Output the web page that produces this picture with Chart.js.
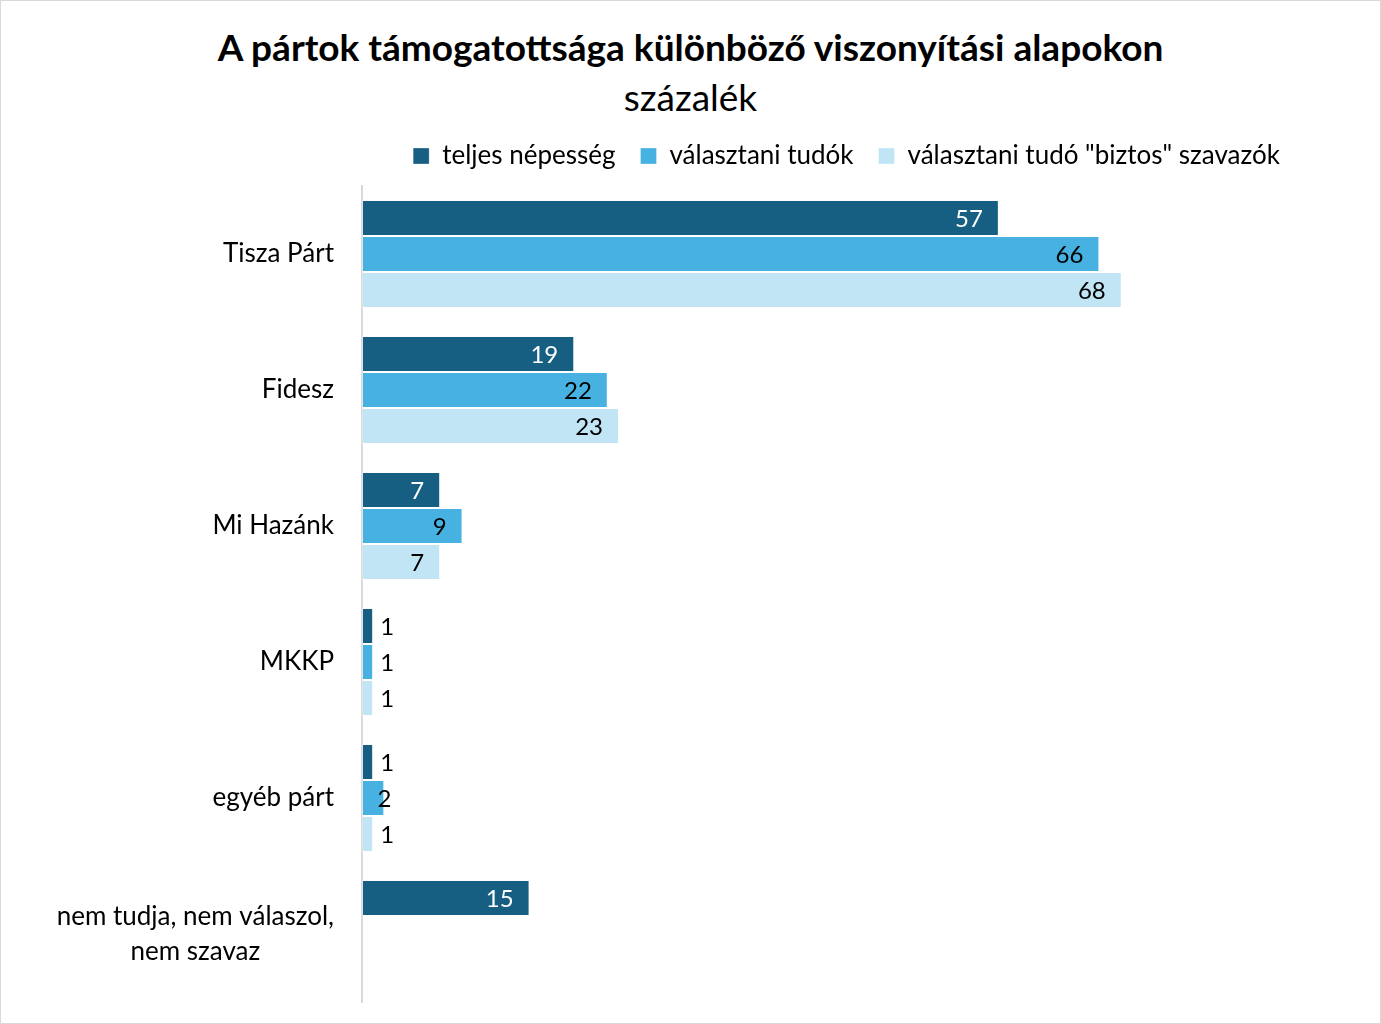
<!DOCTYPE html>
<html>
<head>
<meta charset="utf-8">
<script src="https://cdn.jsdelivr.net/npm/chart.js@4"></script>
<style>
  html, body { margin: 0; padding: 0; background: #fff; }
  #frame { position: relative; width: 1379px; height: 1022px; border: 1px solid #d9d9d9; overflow: hidden; font-family: Lato, sans-serif; }
  #title { position: absolute; top: 23px; left: 0; width: 100%; text-align: center; font-size: 37px; font-weight: bold; color: #000; }
  #subtitle { position: absolute; top: 73px; left: 0; width: 100%; text-align: center; font-size: 37px; color: #000; }
  #wrap { position: absolute; top: 117px; left: 0; width: 1379px; height: 887px; }
</style>
</head>
<body>
<div id="frame">
  <div id="title">A pártok támogatottsága különböző viszonyítási alapokon</div>
  <div id="subtitle">százalék</div>
  <div id="wrap"><canvas id="partChart"></canvas></div>
</div>
<script>
const categories = ['Tisza Párt', 'Fidesz', 'Mi Hazánk', 'MKKP', 'egyéb párt', ['nem tudja, nem válaszol,', 'nem szavaz']];
const seriesNames = ['teljes népesség', 'választani tudók', 'választani tudó "biztos" szavazók'];
const teljesNepesseg = [57, 19, 7, 1, 1, 15];
const valasztaniTudok = [66, 22, 9, 1, 2, null];
const biztosSzavazok = [68, 23, 7, 1, 1, null];
const seriesColors = ['#165f82', '#47b1e1', '#c1e5f5'];
const labelColors = ['#ffffff', '#000000', '#000000'];

// value labels: inside end when they fit, otherwise next to the bar
const barLabels = {
    id: 'barLabels',
    afterDatasetsDraw(chart) {
        const ctx = chart.ctx;
        ctx.save();
        ctx.font = '24px Lato, sans-serif';
        ctx.textBaseline = 'middle';
        chart.data.datasets.forEach((ds, i) => {
            chart.getDatasetMeta(i).data.forEach((bar, j) => {
                const v = ds.data[j];
                if (v === null || v === undefined) return;
                const txt = String(v);
                const tw = ctx.measureText(txt).width;
                const w = bar.x - bar.base;
                if (w >= tw + 30) {
                    ctx.fillStyle = labelColors[i];
                    ctx.textAlign = 'right';
                    ctx.fillText(txt, bar.x - 16, bar.y + 1);
                } else if (w >= tw + 4) {
                    ctx.fillStyle = '#000';
                    ctx.textAlign = 'center';
                    ctx.fillText(txt, bar.x, bar.y + 1);
                } else {
                    ctx.fillStyle = '#000';
                    ctx.textAlign = 'left';
                    ctx.fillText(txt, bar.x + 7, bar.y + 1);
                }
            });
        });
        ctx.restore();
    }
};

// category names, right aligned block with centred lines
const categoryLabels = {
    id: 'categoryLabels',
    afterDraw(chart) {
        const ctx = chart.ctx;
        const yScale = chart.scales.y;
        const right = chart.chartArea.left - 28;
        const lineHeight = 35;
        ctx.save();
        ctx.font = '26px Lato, sans-serif';
        ctx.fillStyle = '#000';
        ctx.textAlign = 'center';
        ctx.textBaseline = 'middle';
        categories.forEach((cat, i) => {
            const lines = Array.isArray(cat) ? cat : [cat];
            const maxW = Math.max(...lines.map(l => ctx.measureText(l).width));
            const cy = yScale.getPixelForTick(i);
            const top = cy - (lines.length - 1) * lineHeight / 2;
            lines.forEach((l, k) => {
                ctx.fillText(l, right - maxW / 2, top + k * lineHeight);
            });
        });
        ctx.restore();
    }
};

// extra gap under the legend
const legendGap = {
    id: 'legendGap',
    beforeInit(chart) {
        const fit = chart.legend.fit;
        chart.legend.fit = function() {
            fit.bind(chart.legend)();
            this.height += 7;
        };
    }
};

new Chart(document.getElementById('partChart'), {
    type: 'bar',
    data: {
        labels: categories,
        datasets: [
            { label: seriesNames[0], data: teljesNepesseg, backgroundColor: seriesColors[0] },
            { label: seriesNames[1], data: valasztaniTudok, backgroundColor: seriesColors[1] },
            { label: seriesNames[2], data: biztosSzavazok, backgroundColor: seriesColors[2] }
        ]
    },
    options: {
        indexAxis: 'y',
        responsive: true,
        maintainAspectRatio: false,
        animation: false,
        layout: { padding: { left: 40, right: 75, top: 0, bottom: 3 } },
        datasets: {
            bar: {
                categoryPercentage: 0.794,
                barPercentage: 1.0,
                borderWidth: 1,
                borderColor: 'rgba(255,255,255,0.3)',
                borderSkipped: false
            }
        },
        scales: {
            x: {
                display: false,
                min: 0,
                max: 84.4
            },
            y: {
                grid: { display: false, drawTicks: false },
                border: { display: true, color: '#d9d9d9', width: 2 },
                ticks: { display: false },
                afterFit(scale) {
                    scale.width = 321;
                    scale.paddingTop = 0;
                    scale.paddingBottom = 0;
                }
            }
        },
        plugins: {
            legend: {
                position: 'top',
                align: 'end',
                labels: {
                    color: '#000',
                    boxWidth: 16,
                    boxHeight: 16,
                    padding: 25,
                    font: { family: 'Lato, sans-serif', size: 26 }
                }
            },
            tooltip: { enabled: false }
        }
    },
    plugins: [barLabels, categoryLabels, legendGap]
});
</script>
</body>
</html>
